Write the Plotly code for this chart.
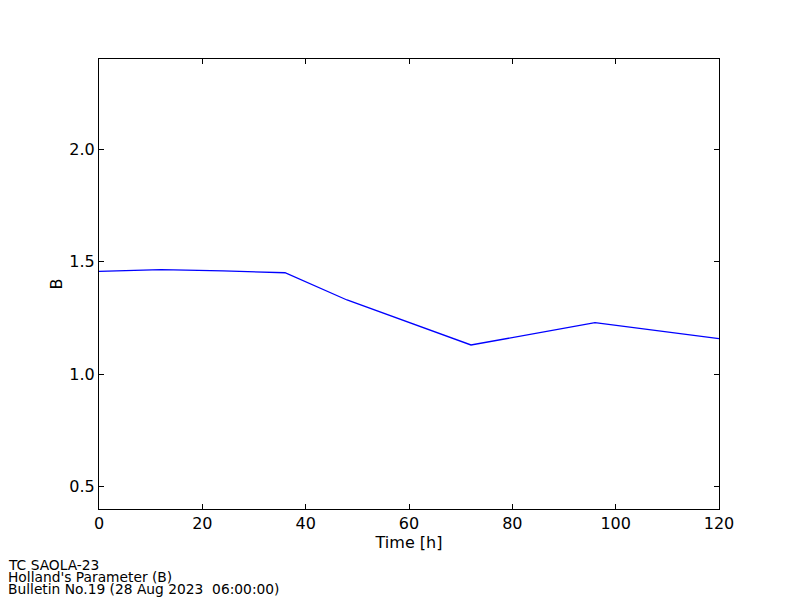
import plotly.graph_objects as go

hours = [0, 12, 24, 36, 48, 72, 96, 120]
b_values = [1.456, 1.464, 1.458, 1.450, 1.329, 1.129, 1.228, 1.157]
footer_lines = ["TC SAOLA-23", "Holland's Parameter (B)", "Bulletin No.19 (28 Aug 2023  06:00:00)"]

FONT = "DejaVu Sans"

# page body has an 8px margin; figure coordinates are page coordinates minus 8
L, T, W, H = 91, 51, 620, 450

fig = go.Figure()
fig.add_trace(go.Scatter(x=hours, y=b_values, mode="lines",
                         line=dict(color="#0000ff", width=1.3), showlegend=False))

axis_common = dict(showline=True, linecolor="black", linewidth=1.2, mirror="ticks",
                   ticks="inside", ticklen=5, tickcolor="black", tickwidth=1,
                   showgrid=False, zeroline=False,
                   tickfont=dict(family=FONT, size=16, color="black"))

fig.update_xaxes(range=[0, 120], tickvals=[0, 20, 40, 60, 80, 100, 120],
                 title=dict(text="Time [h]", font=dict(family=FONT, size=16, color="black"), standoff=2),
                 **axis_common)
fig.update_yaxes(range=[0.4, 2.4], tickvals=[0.5, 1.0, 1.5, 2.0], tickformat=".1f",
                 title=dict(text="B", font=dict(family=FONT, size=16, color="black"), standoff=2),
                 **axis_common)

footer_centers = [557, 569, 581]  # figure-pixel y of each footer line
for line, cy in zip(footer_lines, footer_centers):
    fig.add_annotation(text=line, xref="paper", yref="paper",
                       x=-L / W, y=(T + H - cy) / H, xanchor="left", yanchor="middle",
                       align="left", showarrow=False, borderpad=0, borderwidth=0,
                       font=dict(family=FONT, size=13.8, color="black"))

fig.update_layout(width=800, height=600, margin=dict(l=L, r=800 - L - W, t=T, b=600 - T - H),
                  plot_bgcolor="white", paper_bgcolor="white",
                  font=dict(family=FONT, color="black"))

fig.write_html("out.html")
